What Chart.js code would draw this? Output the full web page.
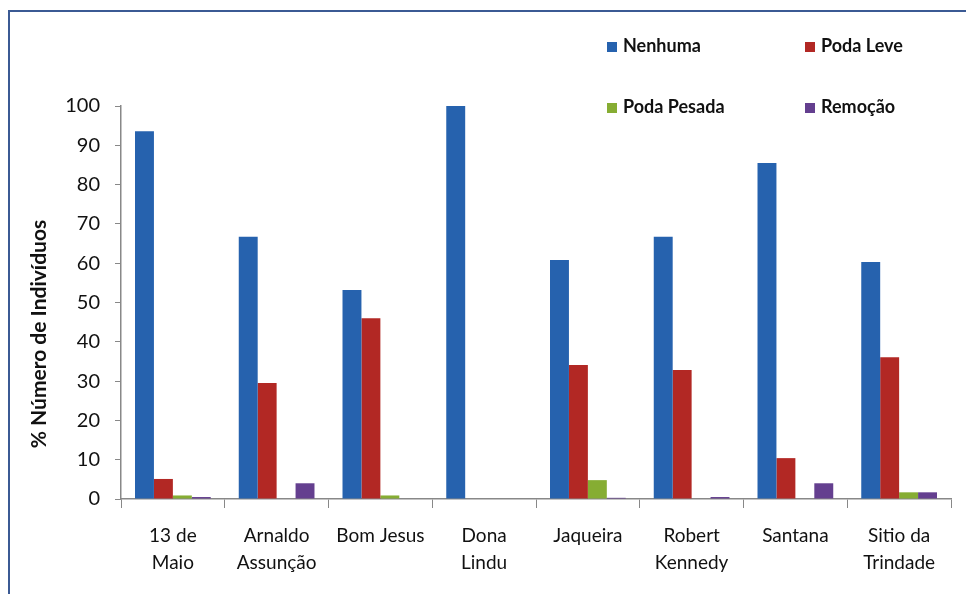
<!DOCTYPE html>
<html>
<head>
<meta charset="utf-8">
<script src="https://cdn.jsdelivr.net/npm/chart.js@4.4.1/dist/chart.umd.min.js"></script>
<style>
  body { margin: 0; background: #fff; font-family: Lato, "Open Sans", sans-serif; }
  #wrap { position: relative; width: 966px; height: 594px; overflow: hidden; }
  #frame { position: absolute; left: 8px; top: 10px; width: 980px; height: 620px;
           border-left: 2px solid #3b5a94; border-top: 2px solid #3b5a94; }
  #legend { position: absolute; left: 607px; top: 34px; width: 320px; }
  .item { position: absolute; font-weight: bold; font-size: 18px; color: #111; white-space: nowrap; }
  .item span { display: inline-block; width: 10px; height: 10px; margin-right: 6px; }
</style>
</head>
<body>
<div id="wrap">
  <div id="frame"></div>
  <canvas id="Chart" width="966" height="594"></canvas>
  <div id="legend"></div>
</div>
<script>
  const categories = [["13 de", "Maio"], ["Arnaldo", "Assunção"], "Bom Jesus", ["Dona", "Lindu"],
    "Jaqueira", ["Robert", "Kennedy"], "Santana", ["Sitio da", "Trindade"]];
  const nenhuma = [93.6, 66.7, 53.2, 100, 60.8, 66.7, 85.5, 60.3];
  const podaLeve = [5.1, 29.5, 46.0, 0, 34.1, 32.8, 10.4, 36.1];
  const podaPesada = [0.9, 0, 0.9, 0, 4.8, 0, 0, 1.7];
  const remocao = [0.5, 4.0, 0, 0, 0.3, 0.5, 4.0, 1.7];
  const seriesNames = ["Nenhuma", "Poda Leve", "Poda Pesada", "Remoção"];
  const colors = ["#2662ae", "#b22824", "#86ad33", "#643f8f"];

  const ctx = document.getElementById("Chart").getContext("2d");
  const font = "Lato, 'Open Sans', sans-serif";

  // axis title drawn by hand so it sits where the original has it
  const yTitle = {
    id: "yTitle",
    afterDraw(chart) {
      const c = chart.ctx;
      c.save();
      c.translate(39, 334);
      c.rotate(-Math.PI / 2);
      c.font = "bold 21px " + font;
      c.fillStyle = "#111";
      c.textAlign = "center";
      c.textBaseline = "middle";
      c.fillText("% Número de Indivíduos", 0, 0);
      c.restore();
    }
  };

  const userChart = new Chart(ctx, {
    type: "bar",
    data: {
      labels: categories,
      datasets: [nenhuma, podaLeve, podaPesada, remocao].map((d, i) => ({
        label: seriesNames[i],
        data: d,
        backgroundColor: colors[i],
        categoryPercentage: 0.73,
        barPercentage: 1.0,
      })),
    },
    options: {
      responsive: false,
      animation: false,
      layout: { padding: { left: 0, top: 106, right: 15, bottom: 0 } },
      plugins: { legend: { display: false }, tooltip: { enabled: false } },
      scales: {
        x: {
          grid: { display: true, drawOnChartArea: false, offset: true, color: "#888", tickLength: 9 },
          border: { color: "#888", width: 1.5 },
          ticks: { color: "#111", font: { family: font, size: 19, lineHeight: 1.4 }, maxRotation: 0, padding: 15 },
          afterFit(scale) { scale.height = 95; },
        },
        y: {
          min: 0,
          max: 100,
          ticks: { stepSize: 10, color: "#111", font: { family: font, size: 20 }, padding: 15 },
          grid: { drawOnChartArea: false, color: "#888", tickLength: 6 },
          border: { color: "#888", width: 1.5 },
          afterFit(scale) { scale.width = 121; },
        },
      },
    },
    plugins: [yTitle],
  });

  // legend in a 2x2 layout like the original
  const legend = document.getElementById("legend");
  seriesNames.forEach((name, i) => {
    const el = document.createElement("div");
    el.className = "item";
    el.style.left = (i % 2) * 198 + "px";
    el.style.top = Math.floor(i / 2) * 61 + "px";
    el.innerHTML = `<span style="background:${colors[i]}"></span>${name}`;
    legend.appendChild(el);
  });
</script>
</body>
</html>
